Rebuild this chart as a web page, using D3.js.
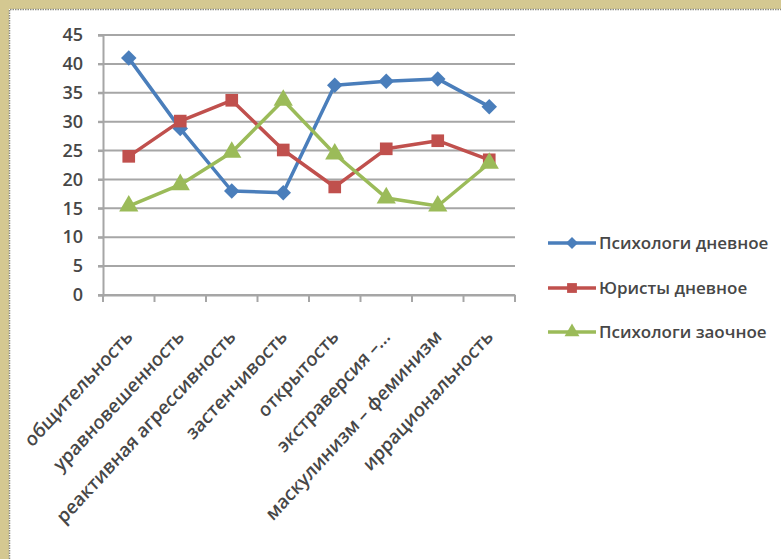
<!DOCTYPE html>
<html><head><meta charset="utf-8">
<script src="https://cdn.jsdelivr.net/npm/d3@7/dist/d3.min.js"></script>
<style>body{margin:0;background:#fff}svg{display:block}text{font-family:"Open Sans",sans-serif;fill:#474747;font-weight:600}</style>
</head><body>
<script>
const categories = ["общительность","уравновешенность","реактивная агрессивность","застенчивость","открытость","экстраверсия –...","маскулинизм – феминизм","иррациональность"];
const seriesNames = ["Психологи дневное","Юристы дневное","Психологи заочное"];
const psyDay = [41, 28.8, 18, 17.7, 36.3, 37, 37.4, 32.6];
const lawDay = [24, 30.1, 33.7, 25.1, 18.7, 25.3, 26.7, 23.4];
const psyExt = [15.4, 19.1, 24.7, 33.7, 24.4, 16.8, 15.4, 22.8];
const yTicks = [0,5,10,15,20,25,30,35,40,45];

const W=781,H=559;
const svg=d3.select("body").append("svg").attr("width",W).attr("height",H);
svg.append("rect").attr("width",W).attr("height",H).attr("fill","#d4c891");
svg.append("rect").attr("x",9).attr("y",9).attr("width",W).attr("height",H).attr("fill","#fff");
svg.append("path").attr("d",`M9.5,${H} V9.5 H${W}`).attr("fill","none").attr("stroke","#8a8a80").attr("stroke-width",1.5).attr("stroke-dasharray","1.5,1");

const x=d3.scaleBand().domain(categories).range([103,515]);
const y=d3.scaleLinear().domain([0,45]).range([295,35]);

const g=svg.append("g");
g.selectAll("line.grid").data(yTicks).join("line")
 .attr("x1",98).attr("x2",515).attr("y1",d=>y(d)).attr("y2",d=>y(d))
 .attr("stroke","#a6a6a6").attr("stroke-width",2);

const ya=g.append("g").attr("transform","translate(103,0)")
 .call(d3.axisLeft(y).tickValues(yTicks).tickSize(5).tickPadding(15));
ya.select(".domain").attr("stroke","#a6a6a6").attr("stroke-width",2);
ya.selectAll(".tick line").attr("stroke","#a6a6a6").attr("stroke-width",2);
ya.selectAll("text").style("font-size","18px").attr("fill","#474747");

const xa=g.append("g").attr("transform","translate(0,295)")
 .call(d3.axisBottom(x).tickSize(0).tickFormat(""));
xa.select(".domain").attr("stroke","#a6a6a6").attr("stroke-width",2);
const bounds=categories.map(c=>x(c)).concat([x.range()[1]]);
xa.selectAll("line.bt").data(bounds).join("line").attr("class","bt")
 .attr("x1",d=>d).attr("x2",d=>d).attr("y1",0).attr("y2",7)
 .attr("stroke","#a6a6a6").attr("stroke-width",2);

g.selectAll("text.xl").data(categories).join("text").attr("class","xl")
 .attr("transform",d=>`translate(${x(d)+x.bandwidth()/2+5},338) scale(1,1.08) rotate(-45)`)
 .attr("text-anchor","end").style("font-size","18px").text(d=>d);

const colors=["#4a7ebb","#c0504d","#9bbb59"];
const data=[psyDay,lawDay,psyExt];
const cx=(i)=>x(categories[i])+x.bandwidth()/2;
const line=d3.line().x((d,i)=>cx(i)).y(d=>y(d));
const sym=[d3.symbolSquare,d3.symbolSquare,d3.symbolTriangle];
const sizes=[120,160,160];
const rot=["rotate(45)","",""];

data.forEach((s,k)=>{
  g.append("path").datum(s).attr("d",line).attr("fill","none")
   .attr("stroke",colors[k]).attr("stroke-width",3.5).attr("stroke-linejoin","round");
  g.selectAll("path.m"+k).data(s).join("path").attr("class","m"+k)
   .attr("transform",(d,i)=>`translate(${cx(i)},${y(d)}) ${rot[k]}`)
   .attr("d",d3.symbol().type(sym[k]).size(sizes[k]))
   .attr("fill",colors[k]);
});

const legY=[243,288,332];
seriesNames.forEach((n,k)=>{
  const lg=svg.append("g");
  lg.append("line").attr("x1",548).attr("x2",596).attr("y1",legY[k]).attr("y2",legY[k])
   .attr("stroke",colors[k]).attr("stroke-width",3.5);
  lg.append("path").attr("transform",`translate(572,${legY[k]}) ${rot[k]}`)
   .attr("d",d3.symbol().type(sym[k]).size(sizes[k]*0.6)).attr("fill",colors[k]);
  lg.append("text").attr("x",599).attr("y",legY[k]).attr("dy","0.35em")
   .style("font-size","17px").text(n);
});
</script>
</body></html>
